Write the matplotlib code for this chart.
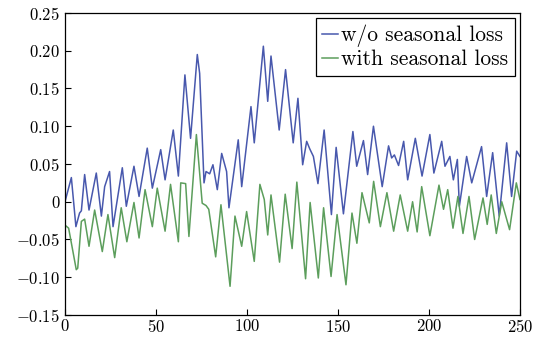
import matplotlib
matplotlib.use("Agg")
import matplotlib.pyplot as plt
from matplotlib.ticker import FixedLocator, FuncFormatter

# turning points (x = sample index, y = error)
BLUE_X = [0, 3.5, 6, 8, 9, 10.8, 13.2, 17.2, 20, 21.8, 24.5, 26.4, 31.5, 33.7, 37.9,
          40.7, 45.2, 48, 52.6, 55, 59.5, 62.3, 65.9, 69, 72.7, 74, 76.4, 77.5, 79.5,
          81.3, 83.7, 86.1, 88.8, 90.1, 95.2, 97.1, 102.2, 104, 109, 111.4, 113.2,
          117.7, 121.2, 125.4, 128, 130.6, 132.8, 134.5, 136.5, 139, 142.4, 146.4,
          149, 153, 158.2, 160.3, 164, 166.3, 169.5, 174.3, 177.8, 179.5, 181, 183.3,
          186.1, 188.3, 192.5, 196.2, 200.5, 202.7, 207, 208.8, 211.5, 213.4, 215.6,
          216.7, 220.7, 223.5, 228.9, 231.7, 235, 238.6, 242.7, 245.4, 248.2, 250]
BLUE_Y = [0.0, 0.032, -0.033, -0.015, -0.012, 0.036, -0.011, 0.038, -0.019, 0.02, 0.040,
          -0.033, 0.045, -0.006, 0.047, 0.007, 0.071, 0.018, 0.069, 0.029, 0.095, 0.034,
          0.168, 0.084, 0.195, 0.17, 0.025, 0.04, 0.037, 0.049, 0.016, 0.064, 0.040,
          -0.008, 0.082, 0.02, 0.126, 0.078, 0.206, 0.133, 0.193, 0.095, 0.175, 0.078,
          0.137, 0.049, 0.080, 0.07, 0.06, 0.024, 0.095, -0.017, 0.072, -0.016, 0.093,
          0.047, 0.081, 0.036, 0.100, 0.020, 0.074, 0.058, 0.062, 0.048, 0.080, 0.029,
          0.084, 0.034, 0.089, 0.038, 0.080, 0.047, 0.060, 0.029, 0.056, -0.006, 0.060,
          0.025, 0.073, 0.007, 0.065, -0.019, 0.078, 0.007, 0.067, 0.06]

GREEN_X = [0, 2, 6.2, 7, 9, 10.8, 13.2, 16.3, 20.5, 23.6, 27.3, 30.9, 34, 37.9, 40.7,
           44, 48, 50.7, 55, 58, 62.3, 63.6, 66.3, 68.1, 72.2, 75.4, 77.5, 79, 82.8,
           85.7, 90.7, 93.4, 97.1, 99.8, 104, 107.1, 109.5, 111.4, 113.2, 117.9, 121,
           124.8, 127.4, 132.2, 134.7, 139.2, 142.1, 146.2, 149.5, 154.4, 157.7, 160.4,
           163.2, 167.2, 169.6, 173.3, 176.9, 180.6, 184.2, 188.3, 191, 193.5, 196,
           200.5, 205.5, 208, 210.3, 213.2, 215.9, 218.7, 222, 225.1, 229.7, 232, 234.2,
           237, 240, 244.3, 248, 250]
GREEN_Y = [-0.031, -0.035, -0.090, -0.088, -0.026, -0.023, -0.059, -0.011, -0.066,
           -0.017, -0.074, -0.008, -0.053, -0.001, -0.048, 0.016, -0.033, 0.018, -0.039,
           0.023, -0.053, 0.025, 0.024, -0.046, 0.089, -0.002, -0.005, -0.01, -0.073,
           -0.004, -0.112, -0.019, -0.059, -0.013, -0.079, 0.023, 0.003, -0.044, 0.009,
           -0.080, 0.010, -0.062, 0.026, -0.102, -0.001, -0.101, -0.008, -0.099, -0.017,
           -0.110, -0.015, -0.055, 0.012, -0.028, 0.027, -0.033, 0.012, -0.039, 0.009,
           -0.039, 0.0, -0.04, 0.02, -0.045, 0.022, -0.01, 0.016, -0.035, 0.007, -0.042,
           0.007, -0.05, 0.005, -0.03, 0.009, -0.042, 0.0, -0.037, 0.025, 0.003]

LABELS = ["w/o seasonal loss", "with seasonal loss"]
X_TICKS = [0, 50, 100, 150, 200, 250]
Y_TICKS = [-0.15, -0.10, -0.05, 0, 0.05, 0.10, 0.15, 0.20, 0.25]

plt.rcParams["font.family"] = "cmr10"
plt.rcParams["mathtext.fontset"] = "cm"
plt.rcParams["axes.formatter.use_mathtext"] = True

fig = plt.figure(figsize=(5.34, 3.42), dpi=100)
ax = fig.add_axes([0.1217, 0.079, 0.852, 0.883])

ax.plot(BLUE_X, BLUE_Y, color="#4858ad", lw=1.1, label=LABELS[0],
        solid_joinstyle="round")
ax.plot(GREEN_X, GREEN_Y, color="#5c9e5c", lw=1.1, label=LABELS[1],
        solid_joinstyle="round")

ax.set_xlim(0, 250)
ax.set_ylim(-0.15, 0.25)
ax.xaxis.set_major_locator(FixedLocator(X_TICKS))
ax.yaxis.set_major_locator(FixedLocator(Y_TICKS))


def fmt_y(v, pos=None):
    if abs(v) < 1e-9:
        return r"$0$"
    return r"$%.2f$" % v


ax.xaxis.set_major_formatter(FuncFormatter(lambda v, p: r"$%d$" % v))
ax.yaxis.set_major_formatter(FuncFormatter(fmt_y))
ax.tick_params(direction="in", length=4, width=0.8, labelsize=12, top=False, right=False)
ax.tick_params(axis="x", pad=2)
for s in ax.spines.values():
    s.set_linewidth(0.9)

leg = ax.legend(loc="upper right", fontsize=15.5, frameon=True, fancybox=False,
                edgecolor="black", framealpha=1, borderaxespad=0.25,
                handlelength=0.75, handletextpad=0.12, borderpad=0.3,
                labelspacing=0.12)
leg.get_frame().set_linewidth(0.9)

fig.savefig("out.png", dpi=100)
